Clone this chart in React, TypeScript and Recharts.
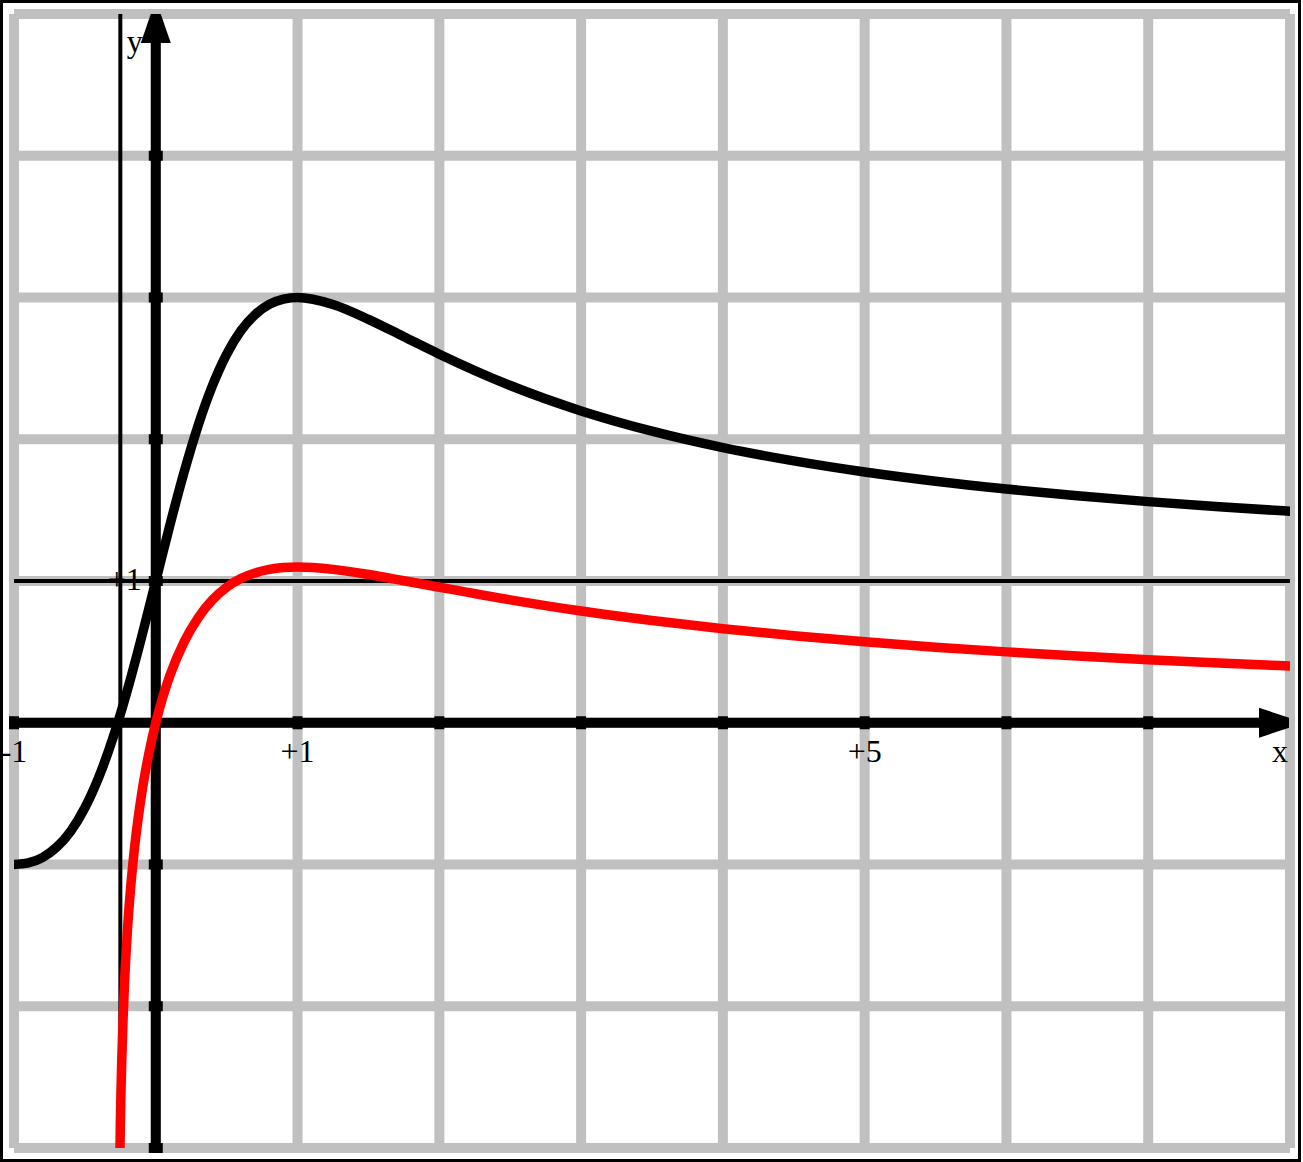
import {
  CartesianGrid,
  Line,
  LineChart,
  ReferenceDot,
  ReferenceLine,
  XAxis,
  YAxis
} from "recharts";

const gridX = [-1, 0, 1, 2, 3, 4, 5, 6, 7, 8];
const gridY = [-3, -2, -1, 0, 1, 2, 3, 4, 5];

const blackX = [
  -1, -0.9, -0.8, -0.7, -0.6, -0.5, -0.4, -0.3, -0.2, -0.1, 0, 0.1, 0.2, 0.3, 0.4, 0.5, 0.6, 0.7,
  0.8, 0.9, 1, 1.25, 1.5, 1.75, 2, 2.5, 3, 3.5, 4, 4.5, 5, 5.5, 6, 6.5, 7, 7.5, 8
];
const blackY = [
  -1, -0.989, -0.951, -0.879, -0.765, -0.6, -0.379, -0.101, 0.231, 0.604, 1, 1.396, 1.769, 2.101,
  2.379, 2.6, 2.765, 2.879, 2.951, 2.989, 3, 2.951, 2.846, 2.723, 2.6, 2.379, 2.2, 2.057, 1.941,
  1.847, 1.769, 1.704, 1.649, 1.601, 1.56, 1.524, 1.492
];

const redX = [
  -0.2525, -0.25, -0.245, -0.24, -0.23, -0.22, -0.2, -0.18, -0.15, -0.1, -0.05, 0, 0.05, 0.1, 0.2,
  0.3, 0.4, 0.5, 0.6, 0.7, 0.8, 0.9, 1, 1.25, 1.5, 1.75, 2, 2.5, 3, 3.5, 4, 4.5, 5, 5.5, 6, 6.5, 7,
  7.5, 8
];
const redY = [
  -3, -2.833, -2.584, -2.383, -2.07, -1.829, -1.466, -1.195, -0.884, -0.504, -0.223, 0, 0.182,
  0.334, 0.571, 0.742, 0.867, 0.956, 1.017, 1.057, 1.082, 1.095, 1.099, 1.082, 1.046, 1.002, 0.956,
  0.867, 0.788, 0.721, 0.663, 0.614, 0.571, 0.533, 0.5, 0.471, 0.445, 0.421, 0.4
];

const xTickMarks = [-1, 1, 2, 3, 4, 5, 6, 7];
const yTickMarks = [-3, -2, -1, 1, 2, 3, 4];

const xLabelValues = [-1, 1, 5];
const xLabelTexts = ["-1", "+1", "+5"];

const blackData = blackX.map((x, i) => ({ x, y: blackY[i] }));
const redData = redX.map((x, i) => ({ x, y: redY[i] }));

const font = { fontFamily: "'Liberation Serif', 'DejaVu Serif', serif", fontSize: 32, fill: "#000" };

const textShape =
  (text: string, dx: number, dy: number, anchor: "start" | "middle" | "end") =>
  (p: any) => (
    <text x={p.cx + dx} y={p.cy + dy} textAnchor={anchor} {...font}>
      {text}
    </text>
  );

const App = () => (
  <div style={{ position: "absolute", left: 0, top: 0, width: 1303, height: 1162, background: "#fff" }}>
    <LineChart width={1303} height={1162} margin={{ left: 14, right: 13, top: 14, bottom: 14 }}>
      <XAxis type="number" dataKey="x" domain={[-1, 8]} ticks={gridX} hide allowDataOverflow />
      <YAxis type="number" domain={[-3, 5]} ticks={gridY} hide allowDataOverflow />
      <CartesianGrid stroke="#c0c0c0" strokeWidth={10} />

      <ReferenceLine x={-0.25} stroke="#000" strokeWidth={4} />
      <ReferenceLine y={1} stroke="#000" strokeWidth={4} />

      <ReferenceLine
        segment={[{ x: -1, y: 0 }, { x: 7.85, y: 0 }]}
        stroke="#000"
        strokeWidth={10}
      />
      <ReferenceLine
        segment={[{ x: 0, y: -3 }, { x: 0, y: 4.85 }]}
        stroke="#000"
        strokeWidth={10}
      />
      <ReferenceDot
        x={8}
        y={0}
        r={0}
        shape={(p: any) => (
          <polygon
            points={`${p.cx - 31},${p.cy - 15} ${p.cx - 1},${p.cy - 5} ${p.cx - 1},${p.cy + 5} ${p.cx - 31},${p.cy + 15}`}
            fill="#000"
          />
        )}
      />
      <ReferenceDot
        x={0}
        y={5}
        r={0}
        shape={(p: any) => (
          <polygon
            points={`${p.cx - 5},${p.cy} ${p.cx + 5},${p.cy} ${p.cx + 15},${p.cy + 29} ${p.cx - 15},${p.cy + 29}`}
            fill="#000"
          />
        )}
      />
      {xTickMarks.map((v) => (
        <ReferenceDot
          key={`xt${v}`}
          x={v}
          y={0}
          r={0}
          shape={(p: any) => <rect x={p.cx - 5} y={p.cy - 6.5} width={10} height={13} fill="#000" />}
        />
      ))}
      {yTickMarks.map((v) => (
        <ReferenceDot
          key={`yt${v}`}
          x={0}
          y={v}
          r={0}
          shape={(p: any) => <rect x={p.cx - 7} y={p.cy - 5} width={14} height={10} fill="#000" />}
        />
      ))}

      <Line
        data={blackData}
        dataKey="y"
        type="monotone"
        stroke="#000"
        strokeWidth={9.5}
        strokeLinecap="round"
        dot={false}
        activeDot={false}
        isAnimationActive={false}
      />
      <Line
        data={redData}
        dataKey="y"
        type="monotone"
        stroke="#ff0000"
        strokeWidth={9.5}
        strokeLinecap="round"
        dot={false}
        activeDot={false}
        isAnimationActive={false}
      />

      {xLabelValues.map((v, i) => (
        <ReferenceDot key={`xl${v}`} x={v} y={0} r={0} shape={textShape(xLabelTexts[i], 0, 39, "middle")} />
      ))}
      <ReferenceDot x={0} y={1} r={0} shape={textShape("+1", -14, 9, "end")} />
      <ReferenceDot x={0} y={5} r={0} shape={textShape("y", -29, 38, "start")} />
      <ReferenceDot x={8} y={0} r={0} shape={textShape("x", -18, 39, "start")} />
    </LineChart>
    <div
      style={{
        position: "absolute",
        left: 0,
        top: 0,
        width: 1301,
        height: 1162,
        border: "3px solid #000",
        boxSizing: "border-box",
        pointerEvents: "none"
      }}
    />
  </div>
);

export default App;
